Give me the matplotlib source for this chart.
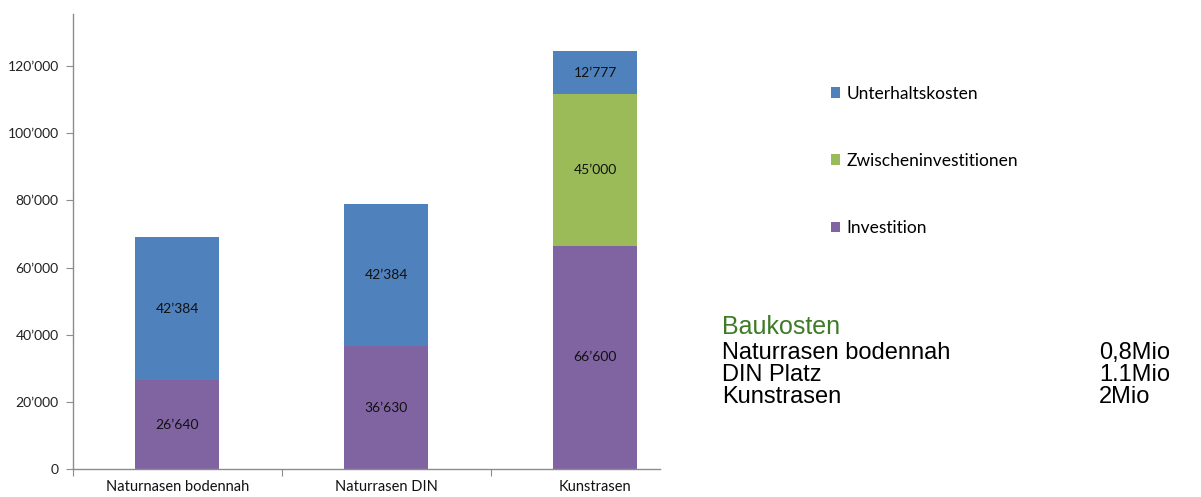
import matplotlib
matplotlib.use("Agg")
import matplotlib.pyplot as plt
import numpy as np

categories = ["Naturnasen bodennah", "Naturrasen DIN", "Kunstrasen"]
investition = [26640, 36630, 66600]
zwischen = [0, 0, 45000]
unterhalt = [42384, 42384, 12777]
y_ticks = [0, 20000, 40000, 60000, 80000, 100000, 120000]

bau_names = ["Naturrasen bodennah", "DIN Platz", "Kunstrasen"]
bau_values = ["0,8Mio", "1.1Mio", "2Mio"]

c_inv = "#8064A2"
c_zw = "#9BBB59"
c_un = "#4F81BD"
grey = "#8C8C8C"
font = "Lato"


def fmt(v):
    return "{:,}".format(int(v)).replace(",", "\u2019")


W, H = 1201, 497
fig = plt.figure(figsize=(W / 100, H / 100), dpi=100)
ax = fig.add_axes([72.7 / W, 1 - 469.3 / H, (660 - 72.7) / W, (469.3 - 14) / H])

x = np.arange(len(categories))
bw = 0.40
inv = np.array(investition)
zw = np.array(zwischen)
un = np.array(unterhalt)

b1 = ax.bar(x, inv, bw, color=c_inv, label="Investition")
b2 = ax.bar(x, zw, bw, bottom=inv, color=c_zw, label="Zwischeninvestitionen")
b3 = ax.bar(x, un, bw, bottom=inv + zw, color=c_un, label="Unterhaltskosten")

# segment labels
for vals, bottoms in [(inv, np.zeros(3)), (zw, inv), (un, inv + zw)]:
    for xi, v, b in zip(x, vals, bottoms):
        if v > 0:
            ax.text(xi, b + v / 2, fmt(v), ha="center", va="center",
                    fontsize=10, family=font, color="#111111")

ax.set_xlim(-0.5, 2.31)
ax.set_ylim(0, 135500)
ax.set_yticks(y_ticks)
ax.set_yticklabels([fmt(v) for v in y_ticks], family=font, fontsize=10, color="#222222")
ax.set_xticks([-0.5, 0.5, 1.5])
ax.set_xticklabels([])
ax.set_xticks(x, minor=True)
ax.set_xticklabels(categories, minor=True, family=font, fontsize=10.5, color="#111111")
ax.tick_params(axis="x", which="minor", length=0, pad=8)
ax.tick_params(axis="x", which="major", length=5, color=grey, direction="out")
ax.tick_params(axis="y", length=5, color=grey, pad=5)
for s in ["top", "right"]:
    ax.spines[s].set_visible(False)
for s in ["left", "bottom"]:
    ax.spines[s].set_color(grey)
    ax.spines[s].set_linewidth(1)

leg = fig.legend(handles=[b3, b2, b1], loc="upper left",
                 bbox_to_anchor=(815 / W, 1 - 70 / H), frameon=False,
                 prop={"family": font, "size": 12.5}, handlelength=0.55,
                 handleheight=0.55, handletextpad=0.35, labelspacing=2.95)

# Baukosten block
green = "#3E7B27"
fig.text(722 / W, 1 - 334 / H, "Baukosten", color=green, fontsize=18,
         family="Liberation Sans", va="baseline")
for i, (n, v) in enumerate(zip(bau_names, bau_values)):
    yb = 1 - (359 + 22 * i) / H
    fig.text(722 / W, yb, n, fontsize=17, family="Liberation Sans", va="baseline")
    fig.text(1099 / W, yb, v, fontsize=17, family="Liberation Sans", va="baseline")

fig.savefig("out.png", dpi=100)
